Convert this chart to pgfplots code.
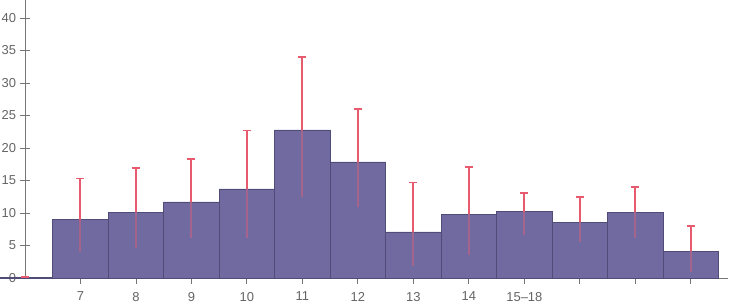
\documentclass[border=0pt]{standalone}
\usepackage{pgfplots}
\pgfplotsset{compat=1.18}
\usepackage{pgfplotstable}
\usepackage{fontspec}
\setmainfont{Liberation Sans}
\definecolor{barfill}{RGB}{112,106,160}
\definecolor{baredge}{RGB}{80,76,120}
\definecolor{errc}{RGB}{232,90,110}
\definecolor{errlow}{RGB}{165,100,140}
\definecolor{axc}{RGB}{118,118,118}
\definecolor{txtc}{RGB}{100,100,100}
\pgfplotstableread{
x y ep em
6 0.15 0 0
7 9.0 6.3 5.0
8 10.15 6.75 5.55
9 11.7 6.6 5.6
10 13.7 9.0 7.6
11 22.8 11.15 10.3
12 17.85 8.15 6.85
13 7.1 7.6 5.25
14 9.8 7.3 6.3
15 10.2 2.9 3.6
16 8.6 3.9 3.0
17 10.15 3.9 4.05
18 4.15 3.9 3.15
}\datatable
\begin{document}
\begin{tikzpicture}
\begin{axis}[
  at={(25bp,27bp)}, anchor=south west,
  scale only axis, width=703bp, height=278bp,
  xmin=6, xmax=18.67, ymin=0, ymax=42.77,
  axis lines=left, axis line style={-, axc, line width=0.9pt},
  tick style={axc, line width=0.9pt},
  tick align=center, major tick length=11bp,
  xtick={7,...,18},
  xticklabels={7,8,9,10,11,12,13,14,15--18,,,},
  ytick={0,5,...,40},
  /pgf/number format/assume math mode=true,
  tick label style={font=\fontsize{13}{15}\selectfont, text=txtc},
  xticklabel style={yshift=-5bp},
  clip=false,
]
\addplot[ybar, bar width=1, bar shift=0, fill=barfill, draw=baredge, line width=0.5pt,
  error bars/.cd, y dir=minus, y explicit, error mark=none,
  error bar style={draw=errlow, line width=2bp}]
  table[x=x, y=y, y error minus=em]{\datatable};
\addplot[ybar, bar width=1, bar shift=0, fill=none, draw opacity=0, forget plot,
  error bars/.cd, y dir=plus, y explicit, error mark=|,
  error bar style={draw=errc, draw opacity=1, line width=2bp},
  error mark options={draw=errc, draw opacity=1, line width=1.8bp, mark size=4bp}]
  table[x=x, y=y, y error plus=ep]{\datatable};
\end{axis}
\pgfresetboundingbox
\path (0,0) rectangle (729bp,305bp);
\end{tikzpicture}
\end{document}
